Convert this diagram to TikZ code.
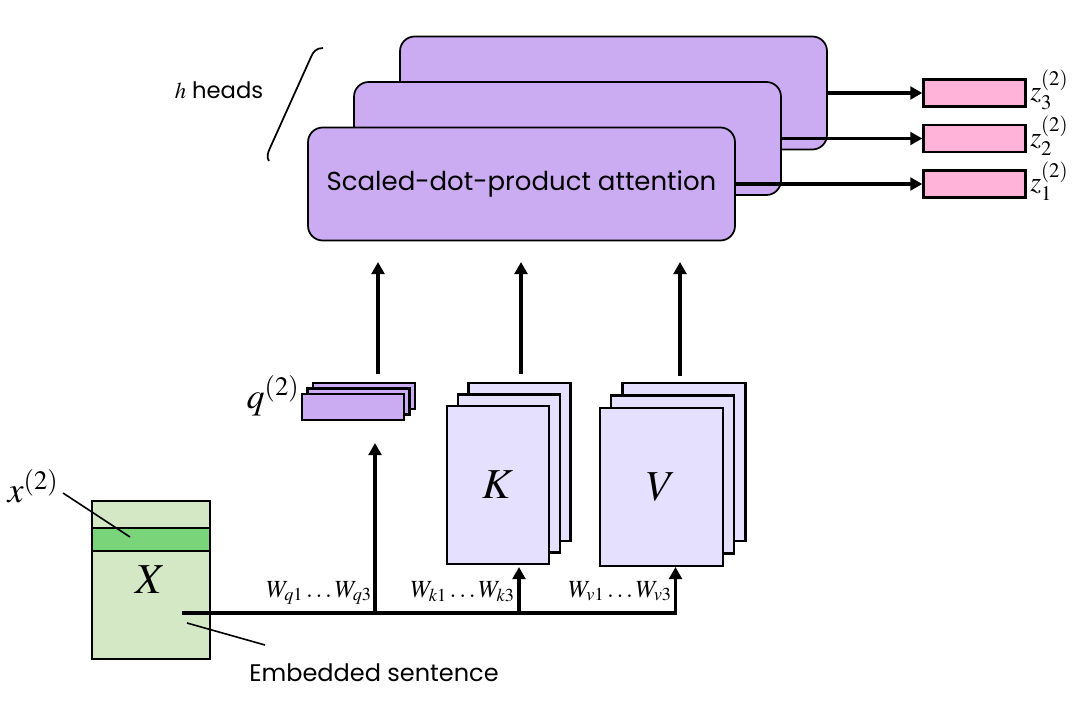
\documentclass[tikz,border=0pt]{standalone}
\usepackage{mathptmx}
\usepackage{fontspec}
\setsansfont{Poppins}
\usetikzlibrary{arrows.meta}
\definecolor{attn}{HTML}{CBABF2}
\definecolor{pinkz}{HTML}{FFB3D9}
\definecolor{kvfill}{HTML}{E6E0FF}
\definecolor{xfill}{HTML}{D5E8C6}
\definecolor{xband}{HTML}{7AD47A}
\tikzset{
  attnbox/.style={draw, line width=1.3pt, fill=attn, rounded corners=11pt, minimum width=320.25pt, minimum height=84.75pt, inner sep=0pt},
  zbox/.style={draw, line width=1.8pt, fill=pinkz, minimum width=76.5pt, minimum height=20.25pt, inner sep=0pt},
  qbox/.style={draw, line width=1.8pt, fill=attn, minimum width=76.5pt, minimum height=19.5pt, inner sep=0pt},
  kbox/.style={draw, line width=1.8pt, fill=kvfill, minimum width=76.5pt, minimum height=118.5pt, inner sep=0pt},
  vbox/.style={draw, line width=1.8pt, fill=kvfill, minimum width=92.25pt, minimum height=118.5pt, inner sep=0pt},
  xbox/.style={draw, line width=1.8pt, fill=xfill, minimum width=88.5pt, minimum height=118.5pt, inner sep=0pt},
  bandbox/.style={draw, line width=1.8pt, fill=xband, minimum width=88.5pt, minimum height=17.25pt, inner sep=0pt},
  arr/.style={line width=2.3pt, -{Triangle[length=9pt,width=9.5pt]}},
  plain/.style={line width=2.3pt},
  thin/.style={line width=1.2pt},
  wlbl/.style={inner sep=0pt, font=\fontsize{18.5}{22}\selectfont},
  zlbl/.style={inner sep=0pt, font=\fontsize{21}{25}\selectfont, anchor=west},
}
\begin{document}
\begin{tikzpicture}[x=0.75pt,y=-0.75pt]
\useasboundingbox (0,0) rectangle (1080,706);
% attention heads
\node[attnbox] (back) at (613.5,93) {};
\node[attnbox] (mid) at (567.5,138.5) {};
\node[attnbox, font=\sffamily\fontsize{19.5}{23}\selectfont] (front) at (521.5,184) {Scaled-dot-product attention};
% outputs
\node[zbox] (z3) at (974.5,93) {};
\node[zbox] (z2) at (974.5,138.5) {};
\node[zbox] (z1) at (974.5,184) {};
\node[zlbl] (z3l) at (1030,90) {$z_3^{(2)}$};
\node[zlbl] (z2l) at (1030,135.5) {$z_2^{(2)}$};
\node[zlbl] (z1l) at (1030,181) {$z_1^{(2)}$};
\draw[arr] (back.east) -- (z3.west);
\draw[arr] (mid.east) -- (z2.west);
\draw[arr] (front.east) -- (z1.west);
% h heads
\node[inner sep=0pt, font=\sffamily\fontsize{17}{20}\selectfont] (heads) at (219,90) {$h$ heads};
\draw[line width=1.3pt] (323,48) .. controls (316,48) and (313,52) .. (311,57) -- (270,148) .. controls (267,154) and (267,158) .. (269,161);
% q stack
\node[qbox] (qback) at (364,396) {};
\node[qbox] (qmid) at (358.5,401.5) {};
\node[qbox] (qfront) at (353,407) {};
\node[inner sep=0pt, font=\fontsize{27}{32}\selectfont] (ql) at (273,396) {$q^{(2)}$};
% K stack
\node[kbox] (kback) at (519.5,462) {};
\node[kbox] (kmid) at (509,473.5) {};
\node[kbox, font=\fontsize{32}{36}\selectfont] (kfront) at (498,485) {$K$};
% V stack
\node[vbox] (vback) at (684,462) {};
\node[vbox] (vmid) at (672.75,474.5) {};
\node[vbox, font=\fontsize{32}{36}\selectfont] (vfront) at (661.5,487) {$V$};
% X
\node[xbox] (xb) at (151,580) {};
\node[bandbox] (band) at (151,539.5) {};
\node[inner sep=0pt, font=\fontsize{32}{36}\selectfont] (xl) at (151,580) {$X$};
\node[inner sep=0pt, font=\fontsize{27}{32}\selectfont] (x2l) at (33,486) {$x^{(2)}$};
\node[inner sep=0pt, font=\sffamily\fontsize{18}{22}\selectfont] (emb) at (374,673) {Embedded sentence};
% arrows up to attention
\coordinate (qs) at (378,374); \coordinate (qt) at (378,262);
\coordinate (ks) at (521,374); \coordinate (kt) at (521,262);
\coordinate (vs) at (680,376); \coordinate (vt) at (680,262);
\draw[arr] (qs) -- (qt);
\draw[arr] (ks) -- (kt);
\draw[arr] (vs) -- (vt);
% bottom distribution line
\coordinate (hs) at (182,613);
\coordinate (he) at (677,613);
\coordinate (hq) at (375,613); \coordinate (hqt) at (375,443);
\coordinate (hk) at (519,613); \coordinate (hkt) at (519,567);
\coordinate (hv) at (675.5,613); \coordinate (hvt) at (675.5,567);
\draw[plain] (hs) -- (he);
\draw[arr] (hq) -- (hqt);
\draw[arr] (hk) -- (hkt);
\draw[arr] (hv) -- (hvt);
\node[wlbl, anchor=base east] (wq) at (372,597) {$W_{q1}\ldots W_{q3}$};
\node[wlbl, anchor=base east] (wk) at (515,597) {$W_{k1}\ldots W_{k3}$};
\node[wlbl, anchor=base east] (wv) at (672,597) {$W_{v1}\ldots W_{v3}$};
% pointer lines
\coordinate (p1a) at (63,493); \coordinate (p1b) at (130,537);
\coordinate (p2a) at (187,623); \coordinate (p2b) at (265,645);
\draw[thin] (p1a) -- (p1b);
\draw[thin] (p2a) -- (p2b);
\end{tikzpicture}
\end{document}
